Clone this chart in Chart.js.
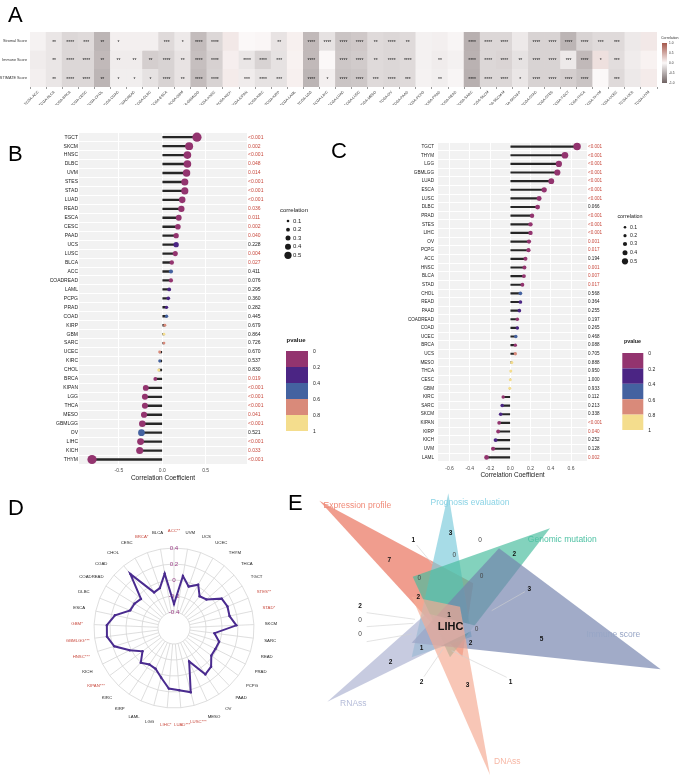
<!DOCTYPE html>
<html>
<head>
<meta charset="utf-8">
<script src="https://cdn.jsdelivr.net/npm/chart.js@4.4.1/dist/chart.umd.min.js"></script>
<style>
  body { margin: 0; background: #fff; width: 685px; height: 777px; position: relative; overflow: hidden; font-family: "Liberation Sans", Arial, sans-serif; }
  canvas { position: absolute; }
  .tag { position: absolute; font-size: 22px; line-height: 22px; color: #000; }
</style>
</head>
<body>
<canvas id="cA" width="685" height="105" style="left:0;top:0"></canvas>
<canvas id="cB" width="330" height="358" style="left:0;top:128px"></canvas>
<canvas id="cC" width="355" height="358" style="left:330px;top:128px"></canvas>
<canvas id="cD" width="300" height="297" style="left:0;top:480px"></canvas>
<canvas id="cE" width="385" height="297" style="left:300px;top:480px"></canvas>
<div class="tag" style="left:8px;top:4px">A</div>
<div class="tag" style="left:8px;top:143px">B</div>
<div class="tag" style="left:331px;top:140px">C</div>
<div class="tag" style="left:8px;top:497px">D</div>
<div class="tag" style="left:288px;top:492px">E</div>
<script>
// ---- Panel A: heatmap ----
const tcga = ['ACC','BLCA','BRCA','CESC','CHOL','COAD','COADREAD','DLBC','ESCA','GBM','GBMLGG','HNSC','KICH','KIPAN','KIRC','KIRP','LAML','LGG','LIHC','LUAD','LUSC','MESO','OV','PAAD','PCPG','PRAD','READ','SARC','SKCM','SKCM-M','SKCM-P','STAD','STES','TGCT','THCA','THYM','UCEC','UCS','UVM'];
const scoreRows = ['Stromal Score', 'Immune Score', 'ESTIMATE Score'];
const stromalR = [-0.04,-0.12,-0.22,-0.20,-0.45,-0.06,-0.06,-0.06,-0.20,-0.10,-0.40,-0.22,0.10,0.00,0.01,-0.14,0.05,-0.42,-0.15,-0.35,-0.32,-0.20,-0.22,-0.20,-0.05,-0.06,-0.02,-0.48,-0.22,-0.22,-0.10,-0.25,-0.25,-0.45,-0.25,-0.20,-0.20,-0.10,0.10];
const immuneR = [-0.08,-0.12,-0.22,-0.22,-0.42,-0.08,-0.08,-0.28,-0.25,-0.14,-0.38,-0.26,0.06,-0.12,-0.25,-0.15,0.04,-0.42,0.00,-0.33,-0.30,-0.20,-0.22,-0.20,-0.05,-0.08,-0.05,-0.47,-0.22,-0.24,-0.15,-0.25,-0.25,-0.10,-0.42,0.15,-0.18,-0.08,0.04];
const estimateR = [-0.06,-0.12,-0.22,-0.22,-0.45,-0.07,-0.07,-0.15,-0.25,-0.14,-0.40,-0.25,0.08,-0.08,-0.15,-0.15,0.05,-0.45,-0.06,-0.35,-0.33,-0.20,-0.22,-0.20,-0.04,-0.07,-0.02,-0.48,-0.22,-0.22,-0.12,-0.25,-0.25,-0.28,-0.35,0.00,-0.20,-0.10,0.08];
const stromalStars = ['','**','****','***','**','*','','','***','*','****','****','','','','**','','****','****','****','****','**','****','**','','','','****','****','****','','****','****','****','****','***','***','',''];
const immuneStars = ['','**','****','****','**','**','**','**','****','**','****','****','','****','****','***','','****','','****','****','**','****','****','','**','','****','****','****','**','****','****','***','****','*','***','',''];
const estimateStars = ['','**','****','****','**','*','*','*','****','**','****','****','','***','****','***','','****','*','****','****','***','****','***','','**','','****','****','****','*','****','****','****','****','','***','',''];
const rowsA = [stromalR, immuneR, estimateR];
const starsA = [stromalStars, immuneStars, estimateStars];
const corrTicks = [1, 0.5, 0, -0.5, -1];

// ---- Panel B ----
const catsB = ['TGCT','SKCM','HNSC','DLBC','UVM','STES','STAD','LUAD','READ','ESCA','CESC','PAAD','UCS','LUSC','BLCA','ACC','COADREAD','LAML','PCPG','PRAD','COAD','KIRP','GBM','SARC','UCEC','KIRC','CHOL','BRCA','KIPAN','LGG','THCA','MESO','GBMLGG','OV','LIHC','KICH','THYM'];
const corrB = [0.40,0.31,0.29,0.29,0.28,0.26,0.26,0.23,0.22,0.19,0.18,0.16,0.16,0.15,0.11,0.10,0.10,0.08,0.07,0.05,0.05,0.03,0.02,0.02,-0.03,-0.03,-0.04,-0.08,-0.19,-0.20,-0.20,-0.21,-0.23,-0.24,-0.25,-0.26,-0.81];
const pB = ['<0.001','0.002','<0.001','0.048','0.014','<0.001','<0.001','<0.001','0.036','0.011','0.002','0.040','0.228','0.004','0.027','0.411','0.076','0.295','0.360','0.282','0.445','0.679','0.864','0.726','0.670','0.537','0.830','0.019','<0.001','<0.001','<0.001','0.041','<0.001','0.521','<0.001','0.033','<0.001'];
const ticksB = [-0.5, 0, 0.5];

// ---- Panel C ----
const catsC = ['TGCT','THYM','LGG','GBMLGG','LUAD','ESCA','LUSC','DLBC','PRAD','STES','LIHC','OV','PCPG','ACC','HNSC','BLCA','STAD','CHOL','READ','PAAD','COADREAD','COAD','UCEC','BRCA','UCS','MESO','THCA','CESC','GBM','KIRC','SARC','SKCM','KIPAN','KIRP','KICH','UVM','LAML'];
const corrC = [0.66,0.54,0.48,0.465,0.405,0.335,0.285,0.27,0.215,0.20,0.20,0.185,0.18,0.15,0.14,0.135,0.12,0.10,0.10,0.09,0.07,0.07,0.055,0.05,0.05,0.015,0.005,0.0,-0.005,-0.07,-0.08,-0.095,-0.11,-0.12,-0.145,-0.17,-0.235];
const pC = ['<0.001','<0.001','<0.001','<0.001','<0.001','<0.001','<0.001','0.066','<0.001','<0.001','<0.001','0.001','0.017','0.194','0.001','0.007','0.017','0.568','0.364','0.255','0.197','0.265','0.468','0.088','0.705','0.888','0.950','1.000','0.933','0.112','0.213','0.338','<0.001','0.040','0.252','0.128','0.002'];
const ticksC = [-0.6, -0.4, -0.2, 0, 0.2, 0.4, 0.6];

const sizeLegend = [0.1, 0.2, 0.3, 0.4, 0.5];
const pLegend = ['0', '0.2', '0.4', '0.6', '0.8', '1'];

// ---- Panel D: radar ----
const radarCats = ['ACC','UVM','UCS','UCEC','THYM','THCA','TGCT','STES','STAD','SKCM','SARC','READ','PRAD','PCPG','PAAD','OV','MESO','LUSC','LUAD','LIHC','LGG','LAML','KIRP','KIRC','KIPAN','KICH','HNSC','GBMLGG','GBM','ESCA','DLBC','COADREAD','COAD','CHOL','CESC','BRCA','BLCA'];
const radarStars = ['**','','','','','','','**','*','','','','','','','','','***','***','*','','','','','***','','***','***','*','','','','','','','*',''];
const radarVals = [-0.30,0.06,-0.05,0.02,-0.09,-0.06,0.10,0.12,0.11,0.18,-0.09,-0.01,-0.02,-0.02,0.07,0.10,-0.14,0.23,0.18,0.16,0.04,-0.04,-0.05,0.0,-0.11,0.02,0.18,0.245,0.24,0.155,-0.01,-0.02,-0.05,0.27,-0.09,-0.07,0.09];

// ---- Panel E: six-set venn ----
const vennSets = ['Expression profile', 'Prognosis evaluation', 'Genomic mutation', 'Immune score', 'RNAss', 'DNAss'];
const vennShapes = [
  [[58, 62], [520, 310], [487, 530]],
  [[445, 40], [335, 532], [515, 470]],
  [[750, 145], [338, 290], [450, 532]],
  [[1082, 568], [335, 488], [597, 205]],
  [[82, 665], [380, 400], [540, 440]],
  [[570, 885], [335, 350], [480, 380]]
];
const vennNamePos = [[172, 77], [510, 67], [787, 180], [940, 465], [160, 670], [622, 845]];
const vennCounts = ['3','1','0','0','2','7','0','0','3','2','2','0','0','1','0','5','2','1','2','2','3','1'];
const vennCountPos = [[452,160],[340,180],[540,180],[463,225],[643,222],[268,242],[358,295],[545,290],[688,327],[355,353],[180,378],[180,420],[180,462],[447,405],[530,447],[725,478],[512,490],[365,505],[272,548],[365,607],[503,615],[632,607]];
const vennLeaders = [[[350,195],[397,252]],[[675,335],[575,392]],[[200,398],[345,418]],[[200,440],[340,430]],[[200,485],[335,462]],[[372,590],[430,505]],[[620,592],[455,512]]];

const FONT = '"Liberation Sans", Arial, sans-serif';
Chart.defaults.font.family = FONT;
Chart.defaults.animation = false;
Chart.defaults.responsive = false;
Chart.defaults.plugins.legend.display = false;
Chart.defaults.plugins.tooltip.enabled = false;

function corrColor(v) {
  const lo = [112, 99, 99], mid = [251, 248, 248], hi = [165, 88, 76];
  const t = Math.min(1, Math.abs(v)), end = v < 0 ? lo : hi;
  return 'rgb(' + mid.map((m, k) => Math.round(m + (end[k] - m) * t)) + ')';
}
const pBins = ['#93346f', '#4b2584', '#4462a0', '#d98a7a', '#f4dd8d'];
function pNum(p) { return p[0] === '<' ? 0 : parseFloat(p); }
function pColor(p) { return pBins[Math.min(4, Math.floor(pNum(p) / 0.2))]; }
const RED = '#c8483c';

// heatmap stars + colour legend
const heatDeco = {
  id: 'heatDeco',
  afterDatasetsDraw(c) {
    const ctx = c.ctx, xs = c.scales.x, ys = c.scales.y;
    ctx.save();
    ctx.fillStyle = '#1a1a1a';
    ctx.font = '5px ' + FONT;
    ctx.textAlign = 'center';
    ctx.textBaseline = 'middle';
    starsA.forEach((row, r) => row.forEach((s, i) => {
      if (s) ctx.fillText(s, xs.getPixelForValue(i), ys.getPixelForValue(r + 0.5) + 1.3);
    }));
    ctx.restore();
  },
  afterDraw(c) {
    const ctx = c.ctx, x = 662, y0 = 43, y1 = 83;
    ctx.save();
    const g = ctx.createLinearGradient(0, y0, 0, y1);
    g.addColorStop(0, corrColor(1));
    g.addColorStop(0.5, corrColor(0));
    g.addColorStop(1, corrColor(-1));
    ctx.fillStyle = g;
    ctx.fillRect(x, y0, 5, y1 - y0);
    ctx.fillStyle = '#333';
    ctx.font = '3.6px ' + FONT;
    ctx.textBaseline = 'middle';
    ctx.fillText('Correlation', 661, 37.5);
    ctx.font = '3.2px ' + FONT;
    corrTicks.forEach(v => ctx.fillText(v.toFixed(1), 669, y0 + (1 - v) / 2 * (y1 - y0)));
    ctx.restore();
  }
};

new Chart(document.getElementById('cA'), {
  type: 'bar',
  data: {
    labels: tcga.map(t => 'TCGA-' + t),
    datasets: rowsA.map((vals, r) => ({
      data: vals.map(() => [r, r + 1]),
      backgroundColor: vals.map(corrColor),
      borderWidth: 0,
      barPercentage: 1,
      categoryPercentage: 1,
      grouped: false
    }))
  },
  options: {
    layout: { padding: { top: 32, right: 28 } },
    scales: {
      x: {
        grid: { drawOnChartArea: false, tickLength: 2, color: '#9a9a9a' },
        border: { display: false },
        ticks: { autoSkip: false, minRotation: 45, maxRotation: 45, padding: 1, font: { size: 3.6 }, color: '#333' },
        afterFit: s => { s.height = 18; }
      },
      y: {
        min: 0, max: 3, reverse: true,
        afterBuildTicks: s => { s.ticks = [0.5, 1.5, 2.5].map(v => ({ value: v })); },
        grid: { display: false, drawTicks: false },
        border: { display: false },
        ticks: { padding: 3, font: { size: 3.8 }, color: '#333', callback: (v, i) => scoreRows[i] },
        afterFit: s => { s.width = 30; }
      }
    }
  },
  plugins: [heatDeco]
});

// lollipop panels B and C
function lollipop(id, cats, corr, pv, o) {
  const deco = {
    id: 'lolliDeco',
    beforeDraw(c) {
      const a = c.chartArea, ctx = c.ctx;
      ctx.save();
      ctx.fillStyle = '#f2f2f2';
      ctx.fillRect(a.left, a.top, a.right - a.left, a.bottom - a.top);
      ctx.restore();
    },
    afterDraw(c) {
      const ctx = c.ctx, L = o.legend;
      ctx.save();
      ctx.fillStyle = '#1a1a1a';
      ctx.textBaseline = 'middle';
      ctx.textAlign = 'center';
      ctx.font = L.tf + 'px ' + FONT;
      ctx.fillText('correlation', L.cx, L.cy);
      ctx.textAlign = 'left';
      ctx.font = L.lf + 'px ' + FONT;
      sizeLegend.forEach((s, k) => {
        ctx.beginPath();
        ctx.arc(L.dx, L.dy[k], L.dr[k], 0, 2 * Math.PI);
        ctx.fill();
        ctx.fillText(String(s), L.dx + L.gap, L.dy[k]);
      });
      ctx.textAlign = 'center';
      ctx.font = 'bold ' + L.tf + 'px ' + FONT;
      ctx.fillText('pvalue', L.px, L.py);
      pBins.forEach((col, k) => {
        ctx.fillStyle = col;
        ctx.fillRect(L.bx, L.by + k * L.bh, L.bw, L.bh);
      });
      ctx.fillStyle = '#1a1a1a';
      ctx.textAlign = 'left';
      ctx.font = L.pf + 'px ' + FONT;
      pLegend.forEach((t, k) => ctx.fillText(t, L.bx + L.bw + 5, L.by + k * L.bh + 1));
      ctx.restore();
    }
  };
  new Chart(document.getElementById(id), {
    type: 'bar',
    data: {
      labels: cats,
      datasets: [
        {
          type: 'scatter',
          data: corr.map((v, i) => ({ x: v, y: i })),
          pointRadius: corr.map(o.size),
          pointBackgroundColor: pv.map(pColor),
          pointBorderWidth: 0,
          order: 0
        },
        {
          type: 'bar',
          data: corr,
          backgroundColor: '#262626',
          barThickness: o.stem,
          order: 1
        }
      ]
    },
    options: {
      indexAxis: 'y',
      layout: { padding: { top: o.top, right: o.right, left: 0, bottom: 0 } },
      scales: {
        x: {
          type: 'linear', min: o.min, max: o.max,
          afterBuildTicks: s => { s.ticks = o.ticks.map(v => ({ value: v })); },
          grid: { color: '#ffffff', lineWidth: 1, drawTicks: false },
          border: { display: false },
          ticks: { padding: 3.5, font: { size: 5 }, color: '#4d4d4d', callback: v => v.toFixed(1) },
          title: { display: true, text: 'Correlation Coefficient', font: { size: 6.5 }, color: '#1a1a1a', padding: { top: 0, bottom: o.tpb } },
          afterFit: s => { s.height = o.xh; }
        },
        y: {
          type: 'category', labels: cats, offset: true,
          grid: { color: '#ffffff', lineWidth: 1, offset: true, drawTicks: false },
          border: { display: false },
          ticks: { autoSkip: false, padding: o.labPad, font: { size: o.lab }, color: '#1a1a1a' },
          afterFit: s => { s.width = o.yw; }
        },
        y2: {
          type: 'category', position: 'right', labels: pv, offset: true,
          grid: { display: false, drawTicks: false },
          border: { display: false },
          ticks: { autoSkip: false, padding: 1, font: { size: o.lab }, color: ctx => pNum(pv[ctx.index]) < 0.05 ? RED : '#1a1a1a' },
          afterFit: s => { s.width = 22; }
        }
      }
    },
    plugins: [deco]
  });
}

lollipop('cB', catsB, corrB, pB, {
  min: -0.96, max: 0.977, ticks: ticksB,
  size: v => Math.min(1.2 + 9 * Math.abs(v), 4.6),
  stem: 1.7, top: 4.7, right: 61, xh: 22, yw: 79, tpb: 4.1, labPad: 1, lab: 5,
  legend: { cx: 294, cy: 82, tf: 6, lf: 6, dx: 288, gap: 5, dy: [93, 101.7, 110, 118.7, 127.3], dr: [1.3, 1.9, 2.5, 3.0, 3.6],
            px: 296, py: 212, bx: 286, by: 223, bw: 22, bh: 16, pf: 5 }
});

lollipop('cC', catsC, corrC, pC, {
  min: -0.714, max: 0.758, ticks: ticksC,
  size: v => 1.5 + 3.4 * Math.abs(v),
  stem: 1.5, top: 14.3, right: 76, xh: 24.3, yw: 108, tpb: 7.1, labPad: 4, lab: 4.6,
  legend: { cx: 300, cy: 88.7, tf: 5.4, lf: 5.2, dx: 295, gap: 5, dy: [99.3, 107.7, 116, 124.7, 133.3], dr: [1.3, 1.6, 2.1, 2.5, 3.1],
            px: 302.5, py: 213.7, bx: 292.3, by: 225, bw: 21, bh: 15.4, pf: 5 }
});

// radar panel D
const radarDeco = {
  id: 'radarDeco',
  beforeDraw(c) {
    const s = c.scales.r, ctx = c.ctx;
    const r0 = s.getDistanceFromCenterForValue(-0.4), r1 = s.getDistanceFromCenterForValue(0.4);
    ctx.save();
    ctx.strokeStyle = '#d6d6d6';
    ctx.lineWidth = 0.8;
    radarCats.forEach((_, i) => {
      const a = s.getPointPosition(i, r0), b = s.getPointPosition(i, r1);
      ctx.beginPath();
      ctx.moveTo(a.x, a.y);
      ctx.lineTo(b.x, b.y);
      ctx.stroke();
    });
    ctx.restore();
  },
  afterDraw(c) {
    const s = c.scales.r, ctx = c.ctx;
    const rl = s.getDistanceFromCenterForValue(0.4) + 17;
    ctx.save();
    ctx.font = '4.3px ' + FONT;
    ctx.textAlign = 'center';
    ctx.textBaseline = 'middle';
    radarCats.forEach((name, i) => {
      const p = s.getPointPosition(i, rl);
      ctx.fillStyle = radarStars[i] ? RED : '#222';
      ctx.fillText(name + radarStars[i], p.x, p.y);
    });
    ctx.restore();
  }
};

new Chart(document.getElementById('cD'), {
  type: 'radar',
  data: {
    labels: radarCats,
    datasets: [{
      data: radarVals,
      borderColor: '#4a2b8f',
      borderWidth: 2,
      pointRadius: 1.2,
      pointBackgroundColor: '#4a2b8f',
      pointBorderWidth: 0,
      fill: false
    }]
  },
  options: {
    layout: { padding: { left: 89, right: 40, top: 63, bottom: 63 } },
    scales: {
      r: {
        min: -0.6, max: 0.4,
        ticks: {
          stepSize: 0.2, showLabelBackdrop: false, color: '#9a3e86', font: { size: 6.2 },
          callback: v => v < -0.5 ? '' : (Math.abs(v) < 1e-9 ? '0' : v.toFixed(1))
        },
        grid: { color: '#d6d6d6', lineWidth: 0.8 },
        angleLines: { display: false },
        pointLabels: { display: false }
      }
    }
  },
  plugins: [radarDeco]
});

// venn panel E
const vennFill = ['rgba(233,111,88,0.68)', 'rgba(126,204,220,0.68)', 'rgba(72,188,158,0.68)', 'rgba(116,131,174,0.68)', 'rgba(172,179,209,0.68)', 'rgba(245,171,148,0.68)'];
const vennName = ['#f08a78', '#8ad3e5', '#4fc2a4', '#98a6c6', '#b5bcd9', '#f7b7a5'];

const vennText = {
  id: 'vennText',
  afterDatasetsDraw(c) {
    const ctx = c.ctx, xs = c.scales.x, ys = c.scales.y;
    const P = p => [xs.getPixelForValue(p[0]), ys.getPixelForValue(p[1])];
    ctx.save();
    ctx.strokeStyle = '#d0d0d0';
    ctx.lineWidth = 0.6;
    vennLeaders.forEach(([a, b]) => {
      const pa = P(a), pb = P(b);
      ctx.beginPath();
      ctx.moveTo(pa[0], pa[1]);
      ctx.lineTo(pb[0], pb[1]);
      ctx.stroke();
    });
    ctx.textAlign = 'center';
    ctx.textBaseline = 'middle';
    ctx.font = '8.5px ' + FONT;
    vennSets.forEach((n, k) => {
      const p = P(vennNamePos[k]);
      ctx.fillStyle = vennName[k];
      ctx.fillText(n, p[0], p[1]);
    });
    vennCounts.forEach((t, k) => {
      const p = P(vennCountPos[k]);
      ctx.font = (t === '0' ? '' : 'bold ') + '6.5px ' + FONT;
      ctx.fillStyle = t === '0' ? '#444' : '#111';
      ctx.fillText(t, p[0], p[1]);
    });
    const lp = P([452, 440]);
    ctx.font = 'bold 11px ' + FONT;
    ctx.fillStyle = '#111';
    ctx.fillText('LIHC', lp[0], lp[1]);
    ctx.restore();
  }
};

new Chart(document.getElementById('cE'), {
  type: 'scatter',
  data: {
    datasets: vennShapes.map((pts, k) => ({
      type: 'line',
      data: pts.concat([pts[0]]).map(p => ({ x: p[0], y: p[1] })),
      fill: 'shape',
      backgroundColor: vennFill[k],
      borderWidth: 0,
      pointRadius: 0,
      tension: 0,
      order: 6 - k
    }))
  },
  options: {
    layout: { padding: 0 },
    scales: {
      x: { type: 'linear', min: 0, max: 1155, display: false },
      y: { type: 'linear', min: 0, max: 891, reverse: true, display: false }
    }
  },
  plugins: [vennText]
});
</script>
</body>
</html>
